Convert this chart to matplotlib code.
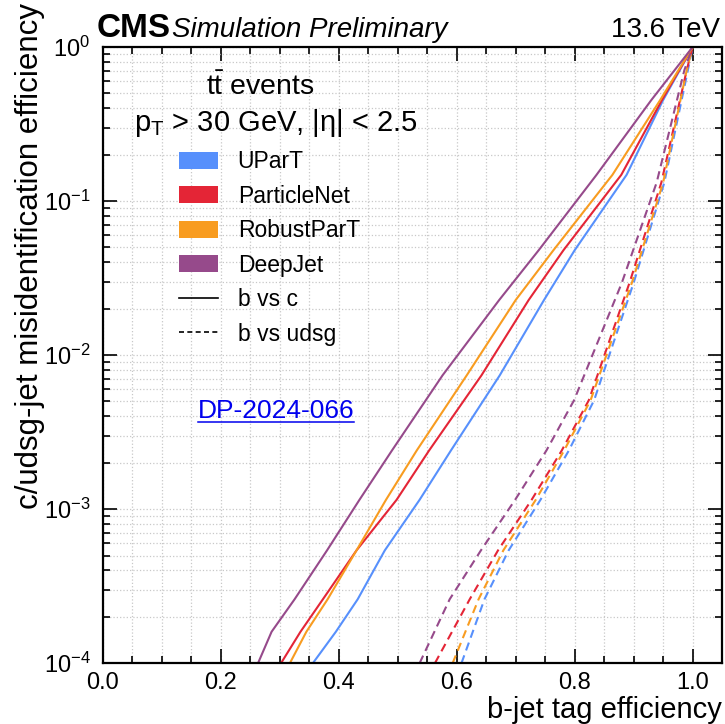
import matplotlib
matplotlib.use("Agg")
import matplotlib.pyplot as plt
from matplotlib.patches import Patch
from matplotlib.lines import Line2D
from matplotlib.ticker import MultipleLocator, LogLocator, NullFormatter

plt.rcParams['font.family'] = ['Liberation Sans', 'DejaVu Sans']
plt.rcParams['mathtext.fontset'] = 'custom'
plt.rcParams['mathtext.rm'] = 'Liberation Sans'
plt.rcParams['mathtext.it'] = 'Liberation Sans:italic'
plt.rcParams['mathtext.bf'] = 'Liberation Sans:bold'

taggers = ["UParT", "ParticleNet", "RobustParT", "DeepJet"]
colors = ["#5790fc", "#e42536", "#f89c20", "#964a8b"]

# b vs c (solid): misid efficiency and b-tag efficiency per tagger
mis_c = [1e-4, 1.6e-4, 2.6e-4, 5.4e-4, 1.15e-3, 2.4e-3, 7.4e-3, 2.28e-2, 4.8e-2, 0.148, 0.453, 1.0]
eff_c = {
    "UParT":       [0.356, 0.395, 0.432, 0.478, 0.537, 0.590, 0.673, 0.748, 0.800, 0.888, 0.950, 1.0],
    "ParticleNet": [0.302, 0.335, 0.373, 0.430, 0.498, 0.553, 0.642, 0.722, 0.781, 0.879, 0.948, 1.0],
    "RobustParT":  [0.317, 0.345, 0.381, 0.430, 0.480, 0.532, 0.617, 0.700, 0.764, 0.864, 0.945, 1.0],
    "DeepJet":     [0.263, 0.286, 0.325, 0.380, 0.435, 0.490, 0.576, 0.672, 0.739, 0.837, 0.930, 1.0],
}

# b vs udsg (dashed)
mis_l = [1e-4, 2.6e-4, 5.4e-4, 1.15e-3, 2.4e-3, 5.1e-3, 2.95e-2, 0.132, 0.708, 1.0]
eff_l = {
    "UParT":       [0.608, 0.647, 0.688, 0.742, 0.790, 0.833, 0.900, 0.952, 0.992, 1.0],
    "ParticleNet": [0.563, 0.622, 0.670, 0.727, 0.778, 0.824, 0.893, 0.947, 0.990, 1.0],
    "RobustParT":  [0.593, 0.637, 0.679, 0.734, 0.782, 0.827, 0.897, 0.950, 0.990, 1.0],
    "DeepJet":     [0.537, 0.588, 0.641, 0.699, 0.752, 0.799, 0.880, 0.939, 0.986, 1.0],
}

fig = plt.figure(figsize=(7.25, 7.24), dpi=100)
ax = fig.add_axes([0.142, 0.084, 0.854, 0.851])

for name, c in zip(taggers, colors):
    ax.plot(eff_c[name], mis_c, color=c, lw=1.5, ls='-')
    ax.plot(eff_l[name], mis_l, color=c, lw=1.5, ls=(0, (4, 2.5)))

ax.set_yscale('log')
ax.set_xlim(0, 1.05)
ax.set_ylim(1e-4, 1)
ax.xaxis.set_major_locator(MultipleLocator(0.2))
ax.xaxis.set_minor_locator(MultipleLocator(0.05))
ax.yaxis.set_major_locator(LogLocator(base=10, numticks=10))
ax.yaxis.set_minor_locator(LogLocator(base=10, subs=range(2, 10), numticks=20))
ax.yaxis.set_minor_formatter(NullFormatter())
ax.tick_params(which='both', direction='in', top=True, right=True, labelsize=17, width=1.2)
ax.tick_params(which='major', length=10)
ax.tick_params(which='minor', length=5)
ax.tick_params(axis='y', pad=9)
ax.tick_params(axis='x', pad=6)
ax.grid(which='both', ls=':', color='#c8c8c8', lw=0.9)
for s in ax.spines.values():
    s.set_linewidth(1.6)

ax.set_xlabel("b-jet tag efficiency", fontsize=21, loc='right', labelpad=2)
ax.set_ylabel("c/udsg-jet misidentification efficiency", fontsize=22.5)
ax.yaxis.set_label_coords(-0.093, 1.071, transform=ax.transAxes)
ax.yaxis.label.set_horizontalalignment('right')

ax.text(-0.01, 1.017, "CMS", transform=ax.transAxes, fontsize=24, fontweight='bold', va='baseline')
ax.text(0.111, 1.017, "Simulation Preliminary", transform=ax.transAxes, fontsize=20, style='italic', va='baseline')
ax.text(0.997, 1.017, "13.6 TeV", transform=ax.transAxes, fontsize=20, ha='right', va='baseline')

ax.text(0.254, 0.936, r"$\mathrm{t\bar{t}}$ events", transform=ax.transAxes, fontsize=20.5, ha='center', va='center')
ax.text(0.28, 0.877, r"$\mathrm{p_T}$ > 30 GeV, |η| < 2.5", transform=ax.transAxes, fontsize=21, ha='center', va='center')

handles = [Patch(facecolor=c, edgecolor='none') for c in colors]
handles += [Line2D([], [], color='black', lw=1.2, ls='-'),
            Line2D([], [], color='black', lw=1.2, ls=(0, (3, 2)))]
labels = taggers + ["b vs c", "b vs udsg"]
ax.legend(handles, labels, loc='upper left', bbox_to_anchor=(0.09, 0.866), frameon=False,
          fontsize=16.5, handlelength=1.7, handleheight=0.75, labelspacing=0.5, handletextpad=0.85)

dp = ax.text(0.153, 0.409, "DP-2024-066", transform=ax.transAxes, fontsize=19, color='#0000ee', va='center')
fig.canvas.draw()
bb = dp.get_window_extent()
fig.add_artist(Line2D([bb.x0, bb.x1], [bb.y0 + 1, bb.y0 + 1], transform=None, color='#0000ee', lw=1.1))

fig.savefig("out.png", dpi=100)
